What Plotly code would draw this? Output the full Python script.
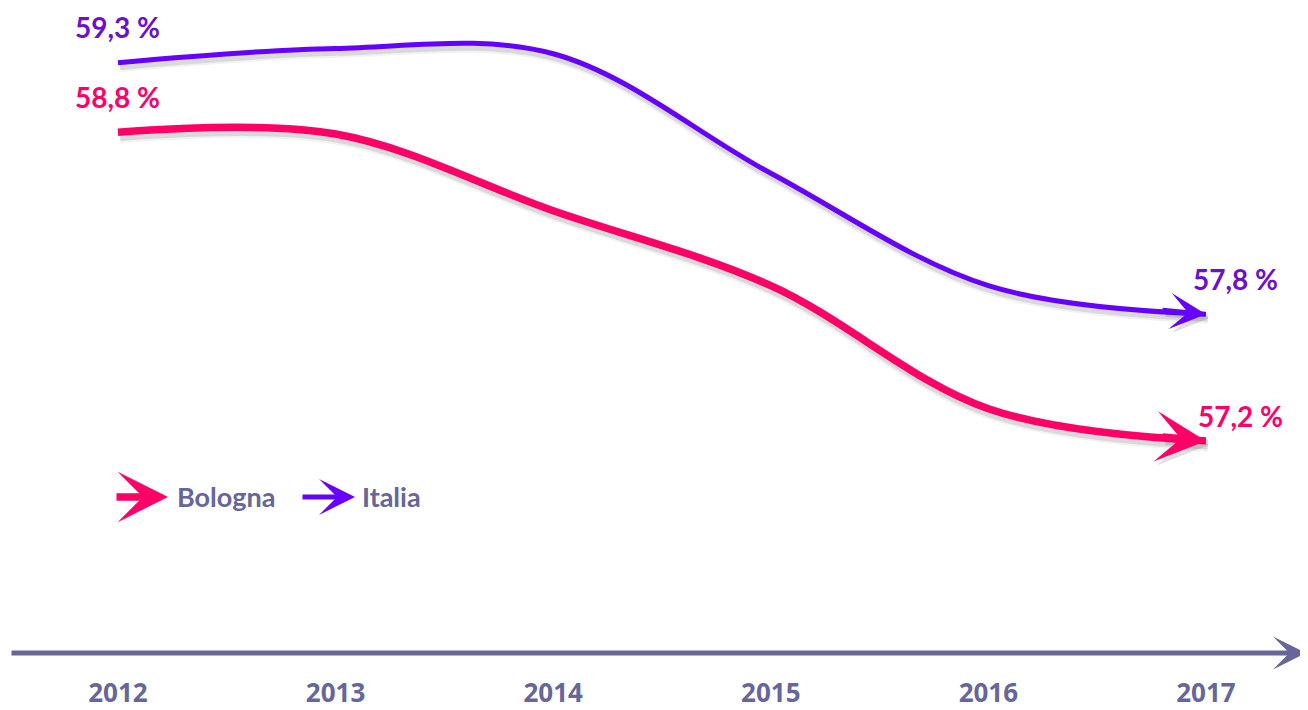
import plotly.graph_objects as go

# ---- data ----
years = [2012, 2013, 2014, 2015, 2016, 2017]
year_labels = ["2012", "2013", "2014", "2015", "2016", "2017"]
bologna = [58.91, 58.90, 58.47, 58.05, 57.36, 57.18]
italia = [59.30, 59.38, 59.35, 58.68, 58.05, 57.89]
bologna_labels = ["58,8 %", "57,2 %"]
italia_labels = ["59,3 %", "57,8 %"]
series_names = ["Bologna", "Italia"]

PINK = "#ff0066"
PURPLE = "#6600ff"
PURPLE_TXT = "#6a10d0"
AXIS = "#66669a"
FONT = "Lato"

OFF = 8  # page body margin
W, H = 1308 - OFF, 710 - OFF
MB = 53
X0, X1 = 2011.4945, 2017.469
Y0, Y1 = 55.991, 59.6064
px_per_year = W / (X1 - X0)
px_per_unit = (H - MB) / (Y1 - Y0)

fig = go.Figure()

def add_series(vals, color, width):
    # soft shadow
    sx = [x + 2 / px_per_year for x in years]
    sy = [v - 4 / px_per_unit for v in vals]
    for extra, alpha in [(6, 0.05), (2, 0.10)]:
        fig.add_trace(go.Scatter(x=sx, y=sy, mode="lines",
                                 line=dict(color=f"rgba(0,0,0,{alpha})", width=width + extra, shape="spline"),
                                 hoverinfo="skip", showlegend=False))
    fig.add_trace(go.Scatter(x=years, y=vals, mode="lines",
                             line=dict(color=color, width=width, shape="spline"),
                             showlegend=False))

add_series(italia, PURPLE, 5)
add_series(bologna, PINK, 7.5)

ann = []

def end_arrow(vals, color, width, size):
    ann.append(dict(x=years[-1], y=vals[-1], xref="x", yref="y", ax=-45, ay=-4,
                    text="", showarrow=True, arrowhead=3, arrowwidth=width, arrowsize=size,
                    arrowcolor="rgba(0,0,0,0.12)", xshift=3, yshift=-4))
    ann.append(dict(x=years[-1], y=vals[-1], xref="x", yref="y", ax=-45, ay=-4,
                    text="", showarrow=True, arrowhead=3, arrowwidth=width, arrowsize=size,
                    arrowcolor=color))

end_arrow(italia, PURPLE, 5, 1.2)
end_arrow(bologna, PINK, 7.5, 1.12)

def value_label(x, y, text, color, xs, ys):
    ann.append(dict(x=x, y=y, xref="x", yref="y", text=f"<b>{text}</b>", showarrow=False,
                    font=dict(family=FONT, size=28, color=color), xshift=xs, yshift=ys))

value_label(years[0], italia[0], italia_labels[0], PURPLE_TXT, 0, 36)
value_label(years[0], bologna[0], bologna_labels[0], PINK, 0, 35)
value_label(years[-1], italia[-1], italia_labels[1], PURPLE_TXT, 30, 35)
value_label(years[-1], bologna[-1], bologna_labels[1], PINK, 35, 25)

# legend (custom, arrows) -- positions in reference pixels
ph = H - MB
def px(p):
    return (p - OFF) / W
def py(p):
    return (ph - (p - OFF)) / ph

legend_items = [(series_names[0], PINK, 7.5, 1.12, 168, 53, 175),
                (series_names[1], PURPLE, 5, 1.2, 355, 54, 360)]
for name, color, wdt, size, tip, length, tx in legend_items:
    ann.append(dict(x=px(tip), y=py(500), xref="paper", yref="paper", ax=-length, ay=0,
                    text="", showarrow=True, arrowhead=3, arrowwidth=wdt, arrowsize=size,
                    arrowcolor=color))
    ann.append(dict(x=px(tx), y=py(500), xref="paper", yref="paper", text=f"<b>{name}</b>",
                    showarrow=False, xanchor="left", yanchor="middle",
                    font=dict(family=FONT, size=27, color=AXIS)))

# x axis with arrow
ann.append(dict(x=px(1306), y=0, xref="paper", yref="paper", ax=-1296, ay=0,
                text="", showarrow=True, arrowhead=3, arrowwidth=5, arrowsize=1.1,
                arrowcolor=AXIS))

fig.update_layout(
    width=W, height=H,
    margin=dict(l=0, r=0, t=0, b=MB),
    paper_bgcolor="white", plot_bgcolor="white",
    showlegend=False,
    annotations=ann,
    xaxis=dict(range=[X0, X1], showgrid=False, zeroline=False, showline=False,
               tickvals=years, ticktext=[f"<b>{t}</b>" for t in year_labels], ticks="",
               ticklabelstandoff=22,
               tickfont=dict(family="Open Sans", size=26, color=AXIS), fixedrange=True),
    yaxis=dict(range=[Y0, Y1], visible=False, fixedrange=True),
)

fig.write_html("out.html")
